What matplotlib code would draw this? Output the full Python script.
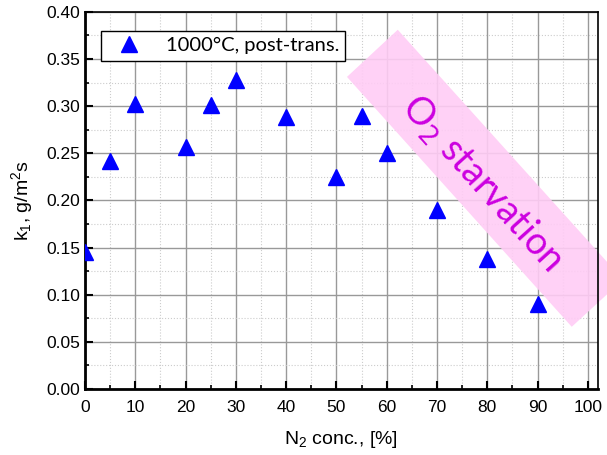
import matplotlib
matplotlib.use('Agg')
import matplotlib.pyplot as plt
from matplotlib.patches import Polygon
from matplotlib.ticker import MultipleLocator, FormatStrFormatter

plt.rcParams['font.family'] = ['Liberation Sans', 'DejaVu Sans']
plt.rcParams['mathtext.fontset'] = 'custom'
plt.rcParams['mathtext.rm'] = 'Liberation Sans'
plt.rcParams['mathtext.it'] = 'Liberation Sans'

# data
n2_conc = [0, 5, 10, 20, 25, 30, 40, 50, 55, 60, 70, 80, 90]
k1 = [0.145, 0.242, 0.302, 0.257, 0.301, 0.328, 0.288, 0.225, 0.290, 0.250, 0.190, 0.138, 0.090]
series_label = '1000°C, post-trans.'

fig = plt.figure(figsize=(6.07, 4.55), dpi=100)
ax = fig.add_axes([0.140, 0.145, 0.845, 0.829])

ax.set_xlim(0, 102)
ax.set_ylim(0, 0.40)
ax.xaxis.set_major_locator(MultipleLocator(10))
ax.xaxis.set_minor_locator(MultipleLocator(5))
ax.yaxis.set_major_locator(MultipleLocator(0.05))
ax.yaxis.set_minor_locator(MultipleLocator(0.025))
ax.yaxis.set_major_formatter(FormatStrFormatter('%.2f'))

ax.grid(which='major', color='#999999', linewidth=1.0, linestyle='-')
ax.grid(which='minor', color='#cccccc', linewidth=0.8, linestyle=':')
ax.set_axisbelow(True)

ax.tick_params(which='both', direction='in', top=False, right=False, labelsize=12.5)
ax.tick_params(axis='x', pad=8)
ax.tick_params(which='major', length=6, width=1.5)
ax.tick_params(which='minor', length=3, width=1.2)
for side in ['left', 'bottom']:
    ax.spines[side].set_linewidth(2)
for side in ['top', 'right']:
    ax.spines[side].set_linewidth(1.2)

# O2 starvation band
band = Polygon([(52.1, 0.331), (62.2, 0.381), (107.0, 0.116), (96.8, 0.066)],
               closed=True, facecolor='#ffccf5', edgecolor='none', alpha=0.9,
               clip_on=False, zorder=1)
ax.add_patch(band)
ax.text(79.0, 0.218, 'O$_2$ starvation', rotation=-48, rotation_mode='anchor',
        ha='center', va='center', fontsize=27, color='#cc00e0', zorder=2,
        family=['Lato', 'DejaVu Sans'], math_fontfamily='dejavusans')

ax.plot(n2_conc, k1, linestyle='none', marker='^', markersize=11,
        color='#0000ff', label=series_label, zorder=3)

leg = ax.legend(loc='upper left', bbox_to_anchor=(0.012, 0.975),
                prop={'family': 'Lato', 'size': 14.5},
                fancybox=False, edgecolor='black', framealpha=1,
                handletextpad=0.7, borderpad=0.3, handlelength=2.2)
leg.get_frame().set_linewidth(1)

ax.set_xlabel('N$_2$ conc., [%]', fontsize=14, labelpad=10)
ax.set_ylabel('k$_1$, g/m$^2$s', fontsize=14, labelpad=8)

fig.savefig('out.png', dpi=100)
